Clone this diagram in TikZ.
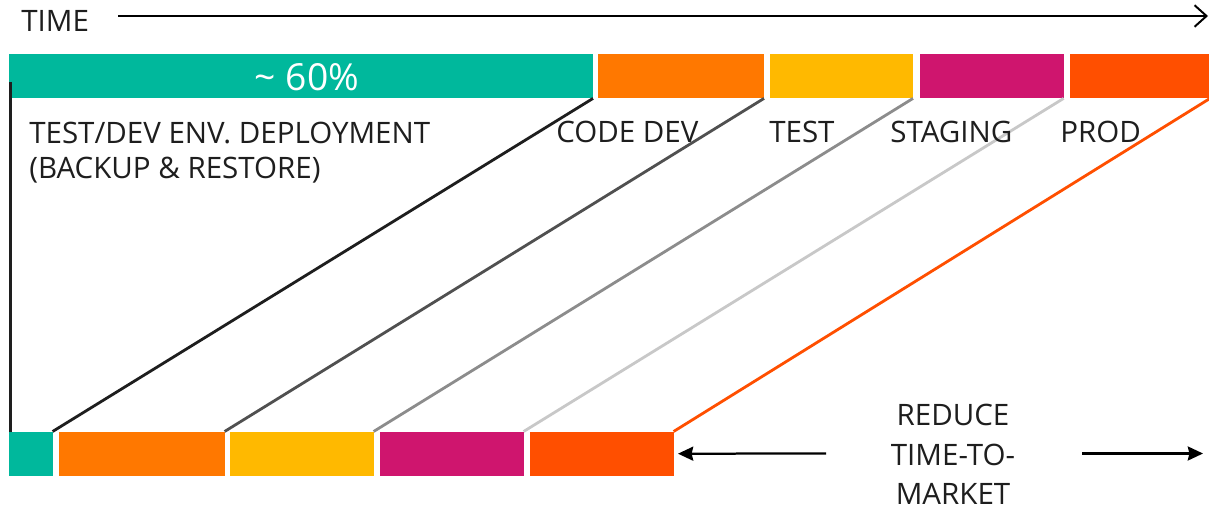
\documentclass[tikz,border=0pt]{standalone}
\usepackage{fontspec}
\setmainfont{Open Sans}
\usepackage{tikz}
\usetikzlibrary{arrows.meta}
\definecolor{tdteal}{RGB}{0,184,156}
\definecolor{tdorange}{RGB}{255,120,0}
\definecolor{tdyellow}{RGB}{255,185,0}
\definecolor{tdmagenta}{RGB}{207,21,110}
\definecolor{tdred}{RGB}{255,79,0}
\definecolor{lnblack}{RGB}{30,30,30}
\definecolor{lndark}{RGB}{80,80,80}
\definecolor{lngray}{RGB}{140,140,140}
\definecolor{lnlight}{RGB}{200,200,200}
\tikzstyle{bar}=[rectangle, inner sep=0pt, outer sep=0pt,% one coloured block of a row
minimum height=11.1mm, anchor=north west]
\tikzstyle{lbl}=[inner sep=0pt, text=lnblack, font=\fontsize{21}{24.4}\selectfont]
\tikzstyle{link}=[line width=2pt]
\tikzstyle{dir}=[line width=1.6pt, -{Stealth[length=3.8mm, width=3.5mm, inset=0.4mm]}]

\begin{document}
\begin{tikzpicture}[x=0.25mm, y=-0.25mm]
\useasboundingbox (0,0) rectangle (1209,509);
% top row
\node[bar, fill=tdteal, minimum width=146mm] (t1) at (9,54) {};
\node[bar, fill=tdorange, minimum width=41.5mm] (t2) at (598,54) {};
\node[bar, fill=tdyellow, minimum width=35.75mm] (t3) at (770,54) {};
\node[bar, fill=tdmagenta, minimum width=35.9mm] (t4) at (920,54) {};
\node[bar, fill=tdred, minimum width=35mm] (t5) at (1070,54) {};
% bottom row
\node[bar, fill=tdteal, minimum width=10.9mm] (b1) at (9,431.5) {};
\node[bar, fill=tdorange, minimum width=41.4mm] (b2) at (59,431.5) {};
\node[bar, fill=tdyellow, minimum width=35.9mm] (b3) at (230,431.5) {};
\node[bar, fill=tdmagenta, minimum width=35.9mm] (b4) at (380,431.5) {};
\node[bar, fill=tdred, minimum width=35.9mm] (b5) at (530,431.5) {};

\node[lbl, text=white, font=\fontsize{26.5}{30}\selectfont, anchor=base] (pct) at (307,90.7) {\textasciitilde{} 60\%};

\coordinate (v0) at (10.5,82);
\draw[link, lnblack] (v0) -- (v0 |- b1.north);
\draw[link, lnblack] (t1.south east) -- (b1.north east);
\draw[link, lndark] (t2.south east) -- (b2.north east);
\draw[link, lngray] (t3.south east) -- (b3.north east);
\draw[link, lnlight] (t4.south east) -- (b4.north east);
\draw[link, tdred] (t5.south east) -- (b5.north east);

% time axis
\node[lbl, anchor=base west] (time) at (21,32) {TIME};
\coordinate (tstart) at (118,16);
\coordinate (tend) at (1208,16);
\draw[line width=1.4pt, -{Straight Barb[length=3mm, width=5.4mm]}] (tstart) -- (tend);

% base of a two-line node is its last line
\node[lbl, anchor=base west, align=left] (envl) at (29,178.3) {TEST/DEV ENV. DEPLOYMENT\\(BACKUP \& RESTORE)};
\node[lbl, anchor=base west] (codel) at (556,142) {CODE DEV};
\node[lbl, anchor=base west] (testl) at (769,142) {TEST};
\node[lbl, anchor=base west] (stagl) at (890,142) {STAGING};
\node[lbl, anchor=base west] (prodl) at (1060,142) {PROD};

% reduce time-to-market
\node[lbl, align=center, font=\fontsize{21}{28.1}\selectfont] (reduce) at (953,454.7) {REDUCE\\TIME-TO-\\MARKET};
\coordinate (rl) at (826,453.5);
\coordinate (rr1) at (1082,453.5);
\coordinate (rr2) at (1203,453.5);
\draw[dir, shorten >=1.1mm] (rl) -- (b5.east);
\draw[dir] (rr1) -- (rr2);
\end{tikzpicture}
\end{document}
